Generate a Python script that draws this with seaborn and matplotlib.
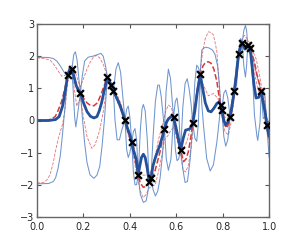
import numpy as np
import pandas as pd
import seaborn as sns
import matplotlib.pyplot as plt

# observed data points
obs_x = [0.132, 0.150, 0.187, 0.303, 0.318, 0.329, 0.379, 0.408, 0.436, 0.483, 0.491,
         0.549, 0.588, 0.619, 0.671, 0.703, 0.791, 0.796, 0.832, 0.850, 0.869, 0.884,
         0.908, 0.918, 0.966, 0.990]
obs_y = [1.41, 1.59, 0.87, 1.34, 1.12, 0.93, 0.015, -0.68, -1.69, -1.90, -1.78,
         -0.27, 0.10, -0.92, -0.09, 1.44, 0.48, 0.33, 0.12, 0.92, 2.08, 2.42,
         2.36, 2.25, 0.91, -0.13]

# posterior mean (thick blue)
mean_x = [0.00, 0.05, 0.08, 0.095, 0.11, 0.122, 0.132, 0.141, 0.150, 0.158, 0.168, 0.177,
          0.187, 0.20, 0.215, 0.23, 0.245, 0.258, 0.268, 0.278, 0.29, 0.303, 0.310, 0.318,
          0.329, 0.34, 0.35, 0.36, 0.37, 0.379, 0.39, 0.40, 0.408, 0.416, 0.422, 0.428,
          0.436, 0.443, 0.45, 0.458, 0.466, 0.475, 0.483, 0.491, 0.50, 0.51, 0.52, 0.53,
          0.54, 0.549, 0.558, 0.566, 0.577, 0.588, 0.598, 0.608, 0.619, 0.63, 0.64, 0.65,
          0.66, 0.671, 0.68, 0.69, 0.703, 0.715, 0.725, 0.738, 0.75, 0.762, 0.775, 0.785,
          0.791, 0.796, 0.805, 0.813, 0.822, 0.832, 0.84, 0.85, 0.86, 0.869, 0.877, 0.884,
          0.896, 0.908, 0.918, 0.925, 0.935, 0.944, 0.955, 0.966, 0.975, 0.984, 0.990, 1.0]
mean_y = [0.0, 0.0, 0.03, 0.12, 0.45, 0.95, 1.41, 1.60, 1.59, 1.40, 1.10, 0.95,
          0.87, 0.55, 0.28, 0.13, 0.08, 0.12, 0.30, 0.55, 0.95, 1.34, 1.25, 1.12,
          0.93, 0.75, 0.60, 0.42, 0.20, 0.015, -0.25, -0.45, -0.68, -0.95, -1.08, -1.25,
          -1.69, -1.40, -1.15, -1.05, -1.15, -1.50, -1.90, -1.78, -1.40, -1.15, -0.95, -0.75,
          -0.50, -0.27, -0.05, 0.05, 0.12, 0.10, -0.20, -0.55, -0.92, -0.55, -0.30, -0.28,
          -0.25, -0.09, 0.30, 0.85, 1.44, 0.95, 0.55, 0.30, 0.27, 0.38, 0.53, 0.58,
          0.48, 0.33, 0.0, -0.14, -0.05, 0.12, 0.45, 0.92, 1.50, 2.08, 2.32, 2.42,
          2.22, 2.36, 2.25, 1.80, 1.10, 0.70, 0.72, 0.91, 0.55, 0.20, -0.13, -0.50]

# thin blue band, upper and lower
bu_x = [0.0, 0.05, 0.07, 0.085, 0.10, 0.115, 0.125, 0.132, 0.141, 0.150, 0.158, 0.165,
        0.172, 0.18, 0.187, 0.195, 0.205, 0.22, 0.24, 0.26, 0.275, 0.285, 0.295, 0.303,
        0.310, 0.318, 0.329, 0.34, 0.35, 0.36, 0.37, 0.379, 0.386, 0.393, 0.40, 0.408,
        0.415, 0.422, 0.429, 0.436, 0.445, 0.452, 0.458, 0.466, 0.475, 0.483, 0.487, 0.491,
        0.50, 0.51, 0.52, 0.527, 0.535, 0.549, 0.556, 0.566, 0.575, 0.588, 0.596, 0.603,
        0.61, 0.619, 0.628, 0.638, 0.647, 0.655, 0.664, 0.671, 0.68, 0.688, 0.695, 0.703,
        0.71, 0.725, 0.74, 0.755, 0.767, 0.778, 0.785, 0.791, 0.796, 0.805, 0.813, 0.822,
        0.832, 0.841, 0.85, 0.86, 0.869, 0.877, 0.884, 0.891, 0.898, 0.903, 0.908, 0.913,
        0.918, 0.926, 0.937, 0.951, 0.966, 0.975, 0.982, 0.990, 1.0]
bu_y = [1.97, 1.96, 1.93, 1.85, 1.70, 1.52, 1.45, 1.41, 1.65, 1.59, 2.05, 2.14,
        1.90, 1.30, 0.87, 1.40, 1.85, 1.97, 2.00, 2.05, 2.09, 2.00, 1.70, 1.34,
        1.30, 1.12, 0.93, 1.60, 1.80, 1.50, 0.70, 0.015, 0.35, 0.45, 0.10, -0.68,
        -0.35, -0.25, -0.60, -1.69, -0.30, 0.35, 0.50, 0.30, -0.60, -1.90, -1.75, -1.78,
        -0.50, 0.60, 1.10, 1.10, 0.75, -0.27, 0.90, 1.60, 1.30, 0.10, 0.60, 0.70,
        0.30, -0.92, 0.40, 1.15, 1.30, 1.00, 0.50, -0.09, 1.20, 1.72, 1.65, 1.44,
        2.20, 2.28, 2.26, 2.20, 2.06, 1.70, 1.20, 0.48, 0.33, 0.85, 0.95, 0.70,
        0.12, 0.60, 0.92, 1.80, 2.08, 2.55, 2.42, 2.80, 2.96, 2.80, 2.36, 2.35,
        2.25, 2.05, 1.72, 1.30, 0.91, 0.95, 0.78, -0.13, 0.0]
bl_x = [0.0, 0.05, 0.07, 0.08, 0.09, 0.10, 0.11, 0.12, 0.126, 0.132, 0.141, 0.150,
        0.156, 0.162, 0.167, 0.173, 0.18, 0.187, 0.195, 0.205, 0.215, 0.228, 0.245, 0.258,
        0.27, 0.28, 0.29, 0.303, 0.310, 0.318, 0.329, 0.336, 0.345, 0.355, 0.365, 0.379,
        0.386, 0.393, 0.40, 0.408, 0.415, 0.422, 0.429, 0.436, 0.445, 0.458, 0.47, 0.478,
        0.483, 0.487, 0.491, 0.50, 0.51, 0.52, 0.53, 0.54, 0.549, 0.557, 0.566, 0.577,
        0.588, 0.596, 0.603, 0.61, 0.619, 0.628, 0.638, 0.648, 0.66, 0.671, 0.68, 0.688,
        0.695, 0.703, 0.71, 0.717, 0.731, 0.746, 0.76, 0.775, 0.785, 0.791, 0.796, 0.805,
        0.813, 0.822, 0.832, 0.841, 0.85, 0.86, 0.869, 0.877, 0.884, 0.891, 0.898, 0.903,
        0.908, 0.913, 0.918, 0.93, 0.937, 0.947, 0.951, 0.961, 0.966, 0.975, 0.982, 0.990,
        1.0]
bl_y = [-1.97, -1.96, -1.90, -1.78, -1.50, -1.10, -0.40, 0.40, 0.95, 1.41, 1.50, 1.59,
        0.90, 0.10, -0.20, 0.10, 0.50, 0.87, 0.10, -0.70, -1.30, -1.69, -1.80, -1.70,
        -1.43, -0.80, 0.0, 1.34, 1.20, 1.12, 0.93, 0.0, -0.60, -0.60, -0.30, 0.015,
        -0.90, -1.15, -1.00, -0.68, -1.60, -2.00, -2.00, -1.69, -2.30, -2.55, -2.50, -2.20,
        -1.90, -1.90, -1.78, -2.15, -2.35, -2.20, -1.80, -1.10, -0.27, -1.20, -1.55, -1.20,
        0.10, -0.90, -1.25, -1.20, -0.92, -1.50, -1.93, -1.90, -1.20, -0.09, -0.55, -0.65,
        -0.10, 1.44, 0.50, -0.14, -1.18, -1.57, -1.38, -0.66, 0.0, 0.48, 0.33, -0.50,
        -0.80, -0.60, 0.12, 0.30, 0.92, 1.10, 2.08, 2.20, 2.42, 1.70, 1.35, 1.70,
        2.36, 2.15, 2.25, 1.20, 0.16, -0.46, -0.62, -0.05, 0.91, 0.06, 0.10, -0.13,
        -1.15]

# red model: mean (thick dashed) and band (thin dashed)
rm_x = [0.0, 0.04, 0.06, 0.078, 0.09, 0.106, 0.12, 0.132, 0.141, 0.150, 0.16, 0.17,
        0.187, 0.20, 0.215, 0.23, 0.245, 0.26, 0.275, 0.29, 0.303, 0.318, 0.329, 0.34,
        0.355, 0.37, 0.379, 0.39, 0.40, 0.408, 0.42, 0.436, 0.445, 0.458, 0.47, 0.483,
        0.491, 0.50, 0.509, 0.52, 0.53, 0.54, 0.549, 0.558, 0.566, 0.577, 0.588, 0.602,
        0.619, 0.631, 0.642, 0.652, 0.662, 0.671, 0.68, 0.69, 0.703, 0.715, 0.725, 0.738,
        0.75, 0.762, 0.775, 0.784, 0.791, 0.796, 0.805, 0.817, 0.825, 0.832, 0.85, 0.86,
        0.869, 0.884, 0.895, 0.908, 0.918, 0.925, 0.937, 0.947, 0.958, 0.966, 0.975, 0.984,
        0.990, 1.0]
rm_y = [0.0, 0.0, 0.04, 0.12, 0.30, 0.60, 1.00, 1.41, 1.55, 1.59, 1.35, 1.10,
        0.87, 0.70, 0.55, 0.47, 0.46, 0.55, 0.80, 1.10, 1.34, 1.12, 0.93, 0.75,
        0.48, 0.20, 0.015, -0.30, -0.50, -0.68, -1.10, -1.69, -1.95, -2.08, -2.05, -1.90,
        -1.85, -1.70, -1.55, -1.25, -0.97, -0.60, -0.27, -0.05, 0.07, 0.13, 0.10, -0.45,
        -0.92, -1.28, -1.20, -0.97, -0.55, -0.09, 0.40, 0.95, 1.44, 1.70, 1.80, 1.83,
        1.78, 1.60, 1.21, 0.75, 0.48, 0.33, -0.05, -0.24, -0.10, 0.12, 0.92, 1.50,
        2.08, 2.42, 2.45, 2.36, 2.25, 2.10, 1.82, 1.45, 1.15, 0.91, 0.55, 0.20,
        -0.13, -0.40]
ru_x = [0.0, 0.03, 0.056, 0.075, 0.09, 0.106, 0.12, 0.132, 0.141, 0.150, 0.16, 0.17,
        0.18, 0.187, 0.20, 0.215, 0.228, 0.245, 0.258, 0.27, 0.285, 0.30, 0.315, 0.329,
        0.345, 0.36, 0.379, 0.39, 0.408, 0.42, 0.436, 0.45, 0.465, 0.483, 0.495, 0.509,
        0.523, 0.54, 0.555, 0.566, 0.577, 0.59, 0.605, 0.619, 0.63, 0.64, 0.652, 0.665,
        0.68, 0.69, 0.703, 0.715, 0.725, 0.738, 0.75, 0.76, 0.768, 0.775, 0.784, 0.791,
        0.80, 0.81, 0.82, 0.832, 0.85, 0.869, 0.884, 0.894, 0.908, 0.918, 0.93, 0.944,
        0.958, 0.966, 0.978, 0.990, 1.0]
ru_y = [1.95, 1.93, 1.88, 1.72, 1.55, 1.38, 1.40, 1.50, 1.70, 1.70, 1.60, 1.40,
        1.15, 1.05, 1.30, 1.60, 1.80, 2.00, 2.02, 1.95, 1.75, 1.45, 1.25, 1.00,
        0.80, 0.55, 0.10, -0.20, -0.55, -0.90, -1.50, -1.70, -1.70, -1.70, -1.50, -1.10,
        -0.60, -0.15, 0.30, 0.48, 0.42, 0.15, -0.30, -0.75, -0.90, -0.75, -0.50, 0.0,
        0.50, 1.00, 1.55, 2.20, 2.55, 2.76, 2.74, 2.66, 2.40, 2.14, 1.20, 0.60,
        0.30, 0.10, 0.05, 0.30, 1.10, 2.20, 2.55, 2.65, 2.50, 2.40, 2.15, 1.92,
        1.45, 1.10, 0.75, 0.10, -0.10]
rl_x = [0.0, 0.03, 0.042, 0.056, 0.07, 0.078, 0.09, 0.10, 0.11, 0.12, 0.132, 0.141,
        0.150, 0.16, 0.171, 0.18, 0.187, 0.20, 0.215, 0.236, 0.25, 0.27, 0.286, 0.303,
        0.318, 0.329, 0.345, 0.36, 0.379, 0.39, 0.408, 0.42, 0.436, 0.445, 0.458, 0.47,
        0.483, 0.495, 0.509, 0.523, 0.54, 0.549, 0.566, 0.577, 0.59, 0.605, 0.619, 0.63,
        0.64, 0.652, 0.665, 0.68, 0.69, 0.703, 0.717, 0.738, 0.76, 0.779, 0.791, 0.80,
        0.81, 0.825, 0.835, 0.85, 0.869, 0.884, 0.895, 0.908, 0.918, 0.93, 0.937, 0.951,
        0.966, 0.978, 0.990, 1.0]
rl_y = [-1.95, -1.92, -1.85, -1.69, -1.30, -1.00, -0.60, -0.35, -0.10, 0.30, 1.20, 1.40,
        1.45, 1.00, 0.45, 0.60, 0.70, 0.10, -0.50, -0.87, -0.75, -0.30, 0.30, 1.20,
        1.00, 0.85, 0.60, 0.35, -0.05, -0.40, -0.80, -1.30, -1.90, -2.20, -2.40, -2.30,
        -2.10, -2.05, -2.00, -1.60, -1.00, -0.60, -0.45, -0.30, -0.20, -0.65, -1.10, -1.55,
        -1.60, -1.40, -0.80, 0.25, 0.85, 1.30, 1.10, 0.77, 0.84, 0.69, 0.35, 0.0,
        -0.35, -0.45, -0.10, 0.70, 1.90, 2.30, 2.25, 2.20, 2.10, 1.80, 1.50, 0.99,
        0.70, 0.35, -0.35, -0.70]

sns.set_style("ticks")
plt.rcParams["font.family"] = ["DejaVu Sans"]

fig = plt.figure(figsize=(2.99, 2.41), dpi=100)
ax = fig.add_axes([0.124, 0.1, 0.776, 0.8])

thin_blue = "#5583c6"
red = "#d9383a"

for xs, ys in [(ru_x, ru_y), (rl_x, rl_y)]:
    sns.lineplot(x=xs, y=ys, ax=ax, color=red, lw=0.6, alpha=0.7,
                 linestyle="--", sort=False)
for xs, ys in [(bu_x, bu_y), (bl_x, bl_y)]:
    sns.lineplot(x=xs, y=ys, ax=ax, color=thin_blue, lw=0.75, alpha=0.85, sort=False)
sns.lineplot(x=rm_x, y=rm_y, ax=ax, color=red, lw=1.1, linestyle="--", sort=False)
sns.lineplot(x=mean_x, y=mean_y, ax=ax, color="#24519a", lw=2.0, sort=False)
sns.scatterplot(x=obs_x, y=obs_y, ax=ax, marker="x", color="black", s=24,
                linewidth=1.6, zorder=5)

ax.set_xlim(0, 1)
ax.set_ylim(-3, 3)
ax.set_xticks(np.arange(0, 1.01, 0.2))
ax.set_yticks(np.arange(-3, 4, 1))
ax.set_xticklabels([f"{v:.1f}" for v in np.arange(0, 1.01, 0.2)])
ax.tick_params(direction="in", top=True, right=True, length=3, width=0.8,
               labelsize=7, color="#555555")
ax.tick_params(axis="x", pad=4)
ax.tick_params(axis="y", pad=2)
for s in ax.spines.values():
    s.set_color("#666666")
    s.set_linewidth(1.0)

fig.savefig("out.png", dpi=100)
